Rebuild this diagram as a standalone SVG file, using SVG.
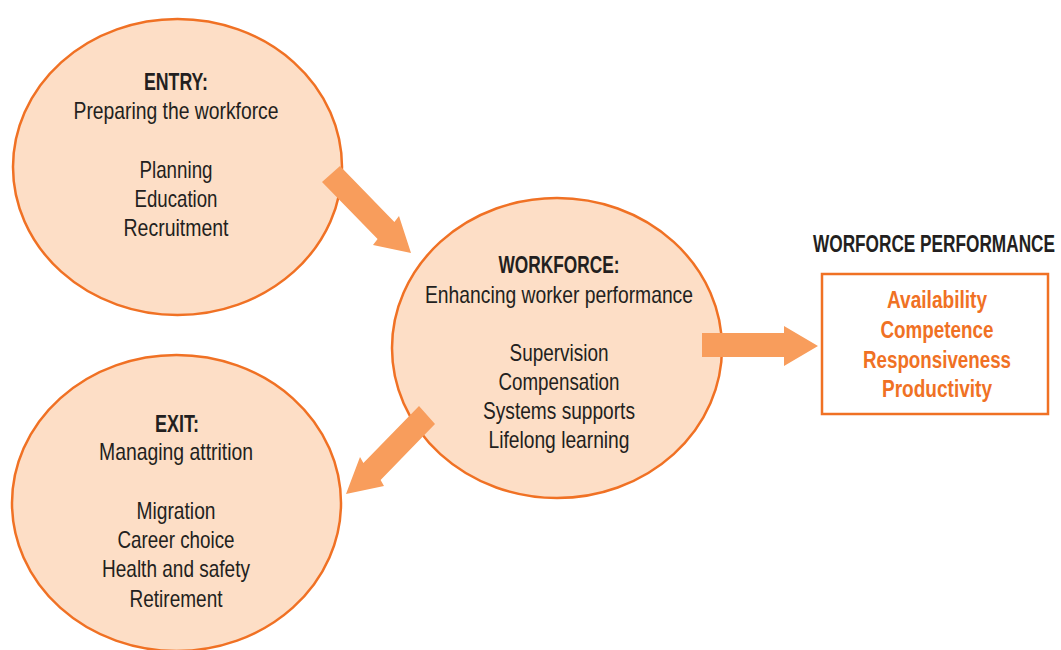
<svg xmlns="http://www.w3.org/2000/svg" width="1061" height="650" viewBox="0 0 1061 650">
<style>
.circ{fill:#FDDEC6;stroke:#F07124;stroke-width:2.5}
.arrow{fill:#F89D5C}
text{font-family:"Liberation Sans",Arial,sans-serif;font-size:24px;fill:#231F20;text-anchor:middle}
.b{font-weight:bold}
.o{fill:#F07124;font-weight:bold}
</style>
<rect width="1061" height="650" fill="#FFFFFF"/>
<g id="entry">
<ellipse class="circ" cx="177.5" cy="167" rx="164.5" ry="148"/>
<text class="b" x="176" y="90" textLength="64" lengthAdjust="spacingAndGlyphs">ENTRY:</text>
<text x="176" y="119" textLength="205" lengthAdjust="spacingAndGlyphs">Preparing the workforce</text>
<text x="176" y="178" textLength="73" lengthAdjust="spacingAndGlyphs">Planning</text>
<text x="176" y="207" textLength="83" lengthAdjust="spacingAndGlyphs">Education</text>
<text x="176" y="236" textLength="105" lengthAdjust="spacingAndGlyphs">Recruitment</text>
</g>
<g id="workforce">
<ellipse class="circ" cx="557" cy="348" rx="165" ry="150"/>
<text class="b" x="559" y="273" textLength="121" lengthAdjust="spacingAndGlyphs">WORKFORCE:</text>
<text x="559" y="303" textLength="268" lengthAdjust="spacingAndGlyphs">Enhancing worker performance</text>
<text x="559" y="361" textLength="99" lengthAdjust="spacingAndGlyphs">Supervision</text>
<text x="559" y="390" textLength="121" lengthAdjust="spacingAndGlyphs">Compensation</text>
<text x="559" y="419" textLength="152" lengthAdjust="spacingAndGlyphs">Systems supports</text>
<text x="559" y="448" textLength="141" lengthAdjust="spacingAndGlyphs">Lifelong learning</text>
</g>
<g id="exit">
<ellipse class="circ" cx="176.5" cy="503" rx="164.5" ry="148"/>
<text class="b" x="177" y="432" textLength="44" lengthAdjust="spacingAndGlyphs">EXIT:</text>
<text x="176" y="460" textLength="154" lengthAdjust="spacingAndGlyphs">Managing attrition</text>
<text x="176" y="519" textLength="79" lengthAdjust="spacingAndGlyphs">Migration</text>
<text x="176" y="548" textLength="117" lengthAdjust="spacingAndGlyphs">Career choice</text>
<text x="176" y="577" textLength="148" lengthAdjust="spacingAndGlyphs">Health and safety</text>
<text x="176" y="607" textLength="93" lengthAdjust="spacingAndGlyphs">Retirement</text>
</g>
<g id="performance">
<text class="b" transform="translate(934,252) scale(0.718,1)" x="0" y="0">WORFORCE PERFORMANCE</text>
<rect x="822" y="274" width="226" height="140" fill="#FFFFFF" stroke="#F07124" stroke-width="2.5"/>
<text class="o" x="937" y="308" textLength="100" lengthAdjust="spacingAndGlyphs">Availability</text>
<text class="o" x="937" y="338" textLength="113" lengthAdjust="spacingAndGlyphs">Competence</text>
<text class="o" x="937" y="368" textLength="148" lengthAdjust="spacingAndGlyphs">Responsiveness</text>
<text class="o" x="937" y="397" textLength="110" lengthAdjust="spacingAndGlyphs">Productivity</text>
</g>
<g id="connectors">
<polygon class="arrow" points="322,182 377.6,239 373,245 411,253 399,216 394.4,222 340,166"/>
<polygon class="arrow" points="702,333 784,333 784,326 818,346 784,366 784,357 702,357"/>
<polygon class="arrow" points="419,406 363.4,463.1 360,457 346,494 384,486 380.6,479.9 435,424"/>
</g>
</svg>
